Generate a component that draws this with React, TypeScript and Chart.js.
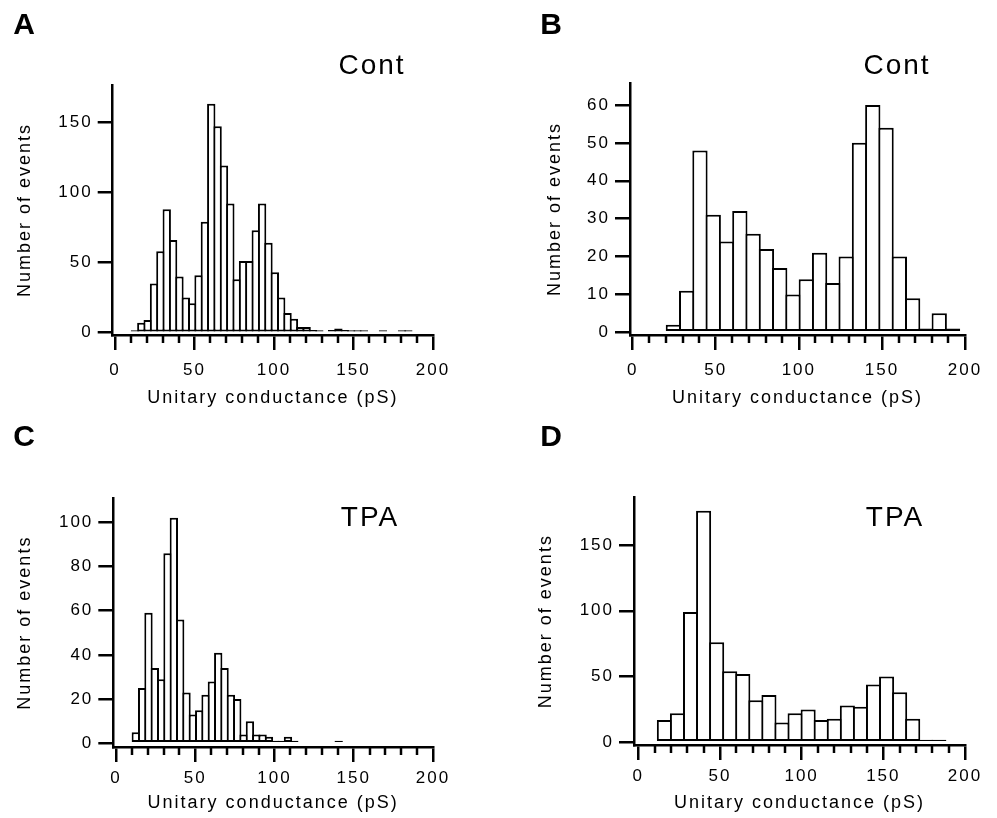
import React, { useEffect, useRef } from "react";
import { Chart, registerables } from "chart.js";

Chart.register(...registerables);

const FONT = '"Liberation Sans", Arial, Helvetica, sans-serif';
const PAGE_W = 997;
const PAGE_H = 818;

// ---------- data ----------
const X_MAJOR_TICKS = [0, 50, 100, 150, 200];
const X_MINOR_TICKS = [10, 20, 30, 40, 60, 70, 80, 90, 110, 120, 130, 140, 160, 170, 180, 190];
const X_TITLE = "Unitary conductance (pS)";
const Y_TITLE = "Number of events";

// Panel A (Cont) – 4 pS bins starting at 10.5 pS
const A_BIN_START = 10.5;
const A_BIN_WIDTH = 4;
const A_COUNTS = [1, 7, 9, 35, 58, 88, 66, 40, 25, 21, 41, 79, 163, 147, 119, 92, 38, 51, 51, 73, 92, 64, 43, 25, 14, 10, 4, 4, 2, 1, 0, 2, 3, 2, 1, 1, 1, 0, 0, 1, 0, 0, 1, 1];
const A_Y_TICKS = [0, 50, 100, 150];

// Panel B (Cont) – 8 pS bins starting at 20.5 pS
const B_BIN_START = 20.5;
const B_BIN_WIDTH = 8;
const B_COUNTS = [2, 11, 48, 31, 24, 32, 26, 22, 17, 10, 14, 21, 13, 20, 50, 60, 54, 20, 9, 1, 5, 1];
const B_Y_TICKS = [0, 10, 20, 30, 40, 50, 60];

// Panel C (TPA) – 4 pS bins starting at 10.5 pS
const C_BIN_START = 10.5;
const C_BIN_WIDTH = 4;
const C_COUNTS = [5, 25, 59, 34, 29, 86, 102, 56, 23, 13, 15, 22, 28, 41, 34, 22, 20, 4, 10, 4, 4, 3, 1, 1, 3, 1, 0, 0, 0, 0, 0, 0, 1];
const C_Y_TICKS = [0, 20, 40, 60, 80, 100];

// Panel D (TPA) – 8 pS bins starting at 12 pS
const D_BIN_START = 12;
const D_BIN_WIDTH = 8;
const D_COUNTS = [17, 22, 99, 176, 76, 54, 52, 32, 36, 15, 22, 25, 17, 18, 28, 27, 44, 50, 38, 18, 1, 1];
const D_Y_TICKS = [0, 50, 100, 150];

// ---------- layout ----------
type Spec = {
  letter: string;
  label: string;
  binStart: number;
  binWidth: number;
  counts: number[];
  yTicks: number[];
  xMin: number;
  yMin: number;
  yMax: number;
  area: { left: number; top: number; right: number; bottom: number };
  padLeft: number;
  yTitleX: number;
  xTitleY: number;
  xAxisH: number;
  xTickPad: number;
  letterPos: [number, number];
  labelPos: [number, number];
};

const PANELS: Spec[] = [
  {
    letter: "A", label: "Cont", binStart: A_BIN_START, binWidth: A_BIN_WIDTH, counts: A_COUNTS, yTicks: A_Y_TICKS,
    xMin: -1.5, yMin: -1.64, yMax: 176.4,
    area: { left: 112.7, top: 85, right: 433, bottom: 335 }, padLeft: 0,
    yTitleX: 25, xTitleY: 398, xAxisH: 80, xTickPad: 10,
    letterPos: [24, 26], labelPos: [372, 66],
  },
  {
    letter: "B", label: "Cont", binStart: B_BIN_START, binWidth: B_BIN_WIDTH, counts: B_COUNTS, yTicks: B_Y_TICKS,
    xMin: -1.6, yMin: -0.71, yMax: 65.8,
    area: { left: 630, top: 83, right: 965, bottom: 335 }, padLeft: 498,
    yTitleX: 555, xTitleY: 398, xAxisH: 80, xTickPad: 10,
    letterPos: [551, 26], labelPos: [897, 66],
  },
  {
    letter: "C", label: "TPA", binStart: C_BIN_START, binWidth: C_BIN_WIDTH, counts: C_COUNTS, yTicks: C_Y_TICKS,
    xMin: -1.7, yMin: -1.67, yMax: 110.8,
    area: { left: 113.3, top: 498.3, right: 433, bottom: 747 }, padLeft: 0,
    yTitleX: 25, xTitleY: 803, xAxisH: 71, xTickPad: 6,
    letterPos: [24, 438], labelPos: [370, 518],
  },
  {
    letter: "D", label: "TPA", binStart: D_BIN_START, binWidth: D_BIN_WIDTH, counts: D_COUNTS, yTicks: D_Y_TICKS,
    xMin: -2.6, yMin: -2.05, yMax: 186.3,
    area: { left: 634, top: 497.3, right: 965, bottom: 745 }, padLeft: 498,
    yTitleX: 546, xTitleY: 803, xAxisH: 73, xTickPad: 6,
    letterPos: [551, 438], labelPos: [895, 518],
  },
];

const BAR_BORDER = 2;
const MIN_BAR_PX = 2.5;
const AXIS_W = 2.5;
const TICK_FONT = 17;
const TITLE_FONT = 18;
const LABEL_FONT = 28;
const LETTER_FONT = 30;

function buildConfig(spec: Spec): any {
  const { area } = spec;
  const centers = spec.counts.map((_, i) => spec.binStart + spec.binWidth * (i + 0.5));
  // empty bins draw nothing, so only non-empty bins are handed to the chart
  const data = spec.counts
    .map((y, i) => ({ x: centers[i], y }))
    .filter((p) => p.y > 0);
  const pxPerUnit = (area.right - area.left) / (200 - spec.xMin);
  const binPx = spec.binWidth * pxPerUnit;
  const barPct = (binPx + BAR_BORDER) / binPx;
  const titleHalf = (TITLE_FONT * 1.2) / 2;
  const xScaleBottom = area.bottom + spec.xAxisH;

  const decor = {
    id: "decor",
    beforeDraw(chart: any) {
      (chart.ctx as any).letterSpacing = "2px";
    },
    afterDraw(chart: any) {
      const ctx = chart.ctx as any;
      const xs = chart.scales.x;
      const bottom = chart.chartArea.bottom;
      ctx.save();
      ctx.strokeStyle = "#000";
      ctx.lineWidth = AXIS_W;
      for (const v of X_MINOR_TICKS) {
        const px = Math.round(xs.getPixelForValue(v));
        ctx.beginPath();
        ctx.moveTo(px, bottom);
        ctx.lineTo(px, bottom + 8);
        ctx.stroke();
      }
      ctx.fillStyle = "#000";
      ctx.textAlign = "center";
      ctx.textBaseline = "middle";
      ctx.letterSpacing = "0px";
      ctx.font = `bold ${LETTER_FONT}px ${FONT}`;
      ctx.fillText(spec.letter, spec.letterPos[0], spec.letterPos[1]);
      ctx.letterSpacing = "2px";
      ctx.font = `${LABEL_FONT}px ${FONT}`;
      ctx.fillText(spec.label, spec.labelPos[0], spec.labelPos[1]);
      ctx.restore();
    },
  };

  return {
    type: "bar",
    data: {
      datasets: [
        {
          data,
          backgroundColor: "#ffffff",
          borderColor: "#000000",
          borderWidth: BAR_BORDER,
          borderSkipped: false,
          barPercentage: barPct,
          categoryPercentage: 1,
          minBarLength: MIN_BAR_PX,
        },
      ],
    },
    options: {
      animation: false,
      responsive: false,
      maintainAspectRatio: false,
      devicePixelRatio: 1,
      events: [],
      layout: {
        autoPadding: false,
        padding: {
          left: spec.padLeft,
          top: area.top,
          right: PAGE_W - area.right,
          bottom: PAGE_H - xScaleBottom,
        },
      },
      plugins: {
        legend: { display: false },
        tooltip: { enabled: false },
        title: { display: false },
      },
      scales: {
        x: {
          type: "linear",
          min: spec.xMin,
          max: 200,
          offset: false,
          afterBuildTicks: (s: any) => {
            s.ticks = X_MAJOR_TICKS.map((v) => ({ value: v }));
          },
          afterFit: (s: any) => {
            s.height = spec.xAxisH;
          },
          grid: {
            display: true,
            drawOnChartArea: false,
            drawTicks: true,
            tickLength: 15,
            lineWidth: AXIS_W,
            tickWidth: AXIS_W,
            color: "#000",
            tickColor: "#000",
            offset: false,
          },
          border: { display: true, color: "#000", width: AXIS_W },
          ticks: {
            font: { family: FONT, size: TICK_FONT },
            color: "#000",
            padding: spec.xTickPad,
            maxRotation: 0,
            minRotation: 0,
            autoSkip: false,
          },
          title: {
            display: true,
            text: X_TITLE,
            font: { family: FONT, size: TITLE_FONT },
            color: "#000",
            padding: { top: 0, bottom: xScaleBottom - spec.xTitleY - titleHalf },
          },
        },
        y: {
          type: "linear",
          min: spec.yMin,
          max: spec.yMax,
          afterBuildTicks: (s: any) => {
            s.ticks = spec.yTicks.map((v) => ({ value: v }));
          },
          afterFit: (s: any) => {
            s.width = area.left - spec.padLeft;
          },
          grid: {
            display: true,
            drawOnChartArea: false,
            drawTicks: true,
            tickLength: 15,
            lineWidth: AXIS_W,
            tickWidth: AXIS_W,
            color: "#000",
            tickColor: "#000",
          },
          border: { display: true, color: "#000", width: AXIS_W },
          ticks: {
            font: { family: FONT, size: TICK_FONT },
            color: "#000",
            padding: 5,
            autoSkip: false,
          },
          title: {
            display: true,
            text: Y_TITLE,
            font: { family: FONT, size: TITLE_FONT },
            color: "#000",
            padding: { top: spec.yTitleX - spec.padLeft - titleHalf, bottom: 0 },
          },
        },
      },
    },
    plugins: [decor],
  };
}

function Panel({ spec }: { spec: Spec }) {
  const ref = useRef<HTMLCanvasElement | null>(null);
  useEffect(() => {
    if (!ref.current) return;
    const chart = new Chart(ref.current, buildConfig(spec));
    return () => chart.destroy();
  }, [spec]);
  return (
    <canvas
      ref={ref}
      width={PAGE_W}
      height={PAGE_H}
      style={{ position: "absolute", left: 0, top: 0, width: PAGE_W, height: PAGE_H }}
    />
  );
}

export default function App() {
  return (
    <div
      style={{
        position: "absolute",
        left: 0,
        top: 0,
        width: PAGE_W,
        height: PAGE_H,
        background: "#ffffff",
        overflow: "hidden",
      }}
    >
      {PANELS.map((p) => (
        <Panel key={p.letter} spec={p} />
      ))}
    </div>
  );
}
